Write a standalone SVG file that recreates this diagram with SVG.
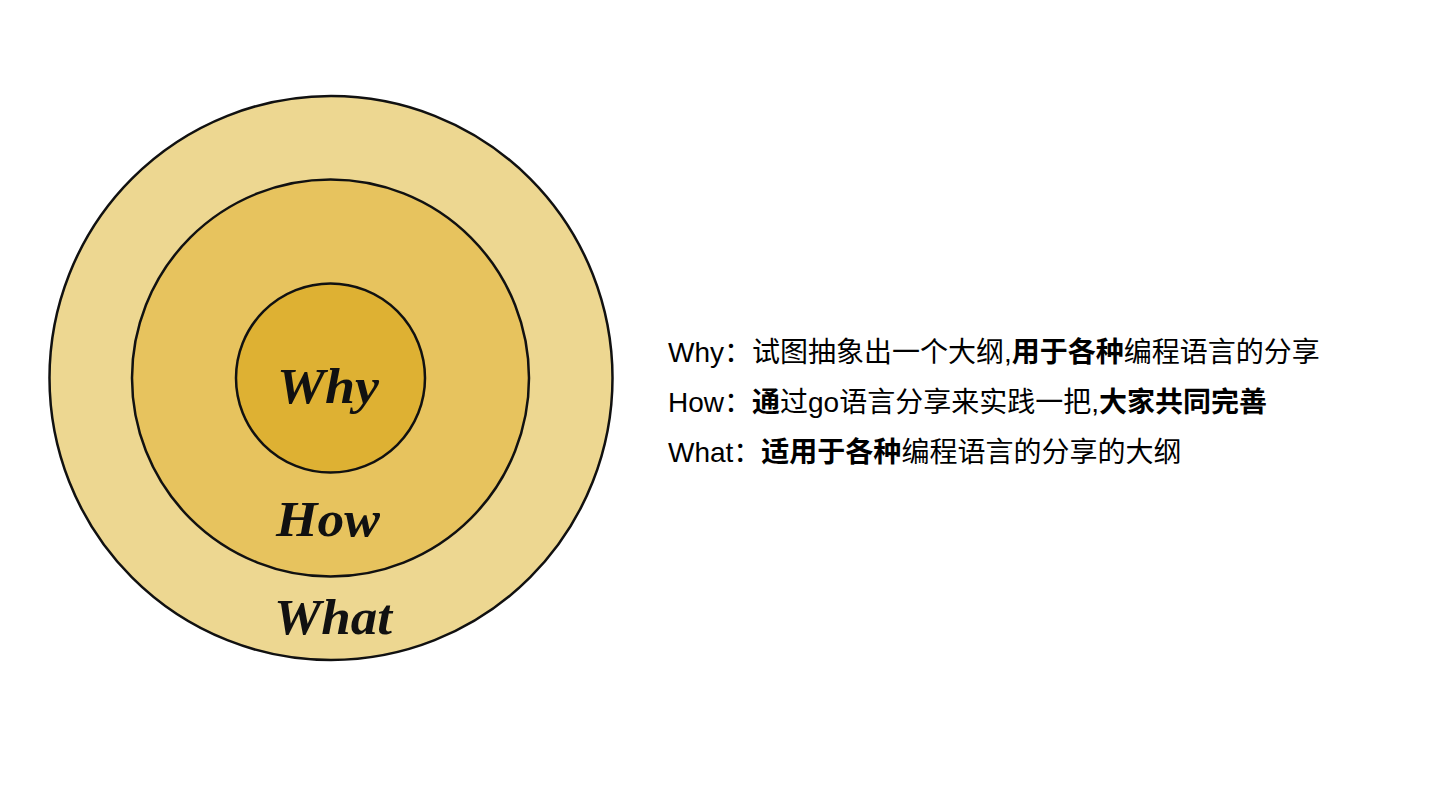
<svg xmlns="http://www.w3.org/2000/svg" width="1440" height="810" viewBox="0 0 1440 810">
<style>
.ring{stroke:#111;stroke-width:2.5}
.script{font-family:"Liberation Serif","DejaVu Serif",serif;font-style:italic;font-weight:bold;fill:#111;text-anchor:middle}
.desc{font-family:"Liberation Sans","Noto Sans CJK SC",sans-serif;font-size:28px;fill:#000}
.b{font-weight:bold}
</style>
<rect width="1440" height="810" fill="#fff"/>
<g id="what">
<ellipse class="ring" cx="331" cy="378" rx="281.5" ry="282" fill="#EDD791"/>
<text class="script" x="333" y="634" font-size="50" textLength="118" lengthAdjust="spacingAndGlyphs">What</text>
</g>
<g id="how">
<circle class="ring" cx="330.5" cy="378" r="198.5" fill="#E7C35E"/>
<text class="script" x="328" y="536" font-size="50" textLength="104" lengthAdjust="spacingAndGlyphs">How</text>
</g>
<g id="why">
<circle class="ring" cx="330.5" cy="378" r="94.5" fill="#DEB133"/>
<text class="script" x="328" y="403" font-size="50" textLength="102" lengthAdjust="spacingAndGlyphs">Why</text>
</g>
<g id="connectors"></g>
<g id="descriptions">
<text class="desc" x="668" y="362">Why：试图抽象出一个大纲,<tspan class="b">用于各种</tspan>编程语言的分享</text>
<text class="desc" x="668" y="412">How：<tspan class="b">通</tspan>过go语言分享来实践一把,<tspan class="b">大家共同完善</tspan></text>
<text class="desc" x="668" y="462">What：<tspan class="b">适用于各种</tspan>编程语言的分享的大纲</text>
</g>
</svg>
